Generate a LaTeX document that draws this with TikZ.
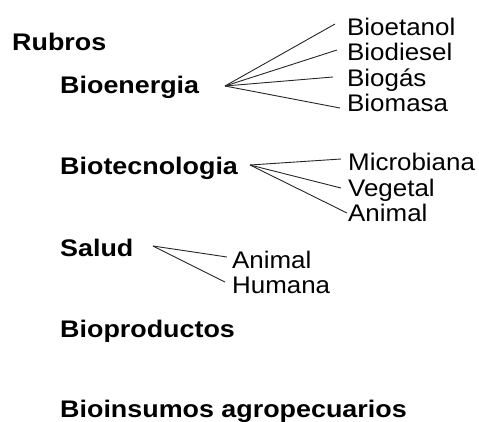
\documentclass[tikz,border=0pt]{standalone}
\usepackage{fontspec}
\setmainfont{Liberation Sans}[FakeStretch=1.08,BoldFeatures={FakeStretch=1.12}]
\begin{document}
\begin{tikzpicture}[x=1pt,y=-1pt,
  head/.style={anchor=base west,inner sep=0pt,font=\fontsize{24}{28}\selectfont\bfseries},
  leaf/.style={anchor=base west,inner sep=0pt,font=\fontsize{24}{28}\selectfont},
  link/.style={draw=black!85,line width=0.9pt}]
\useasboundingbox (0,0) rectangle (479,421);
\node[head] (rub) at (12,50) {Rubros};
\node[head] (bioe) at (60,93) {Bioenergia};
\node[leaf] (etan) at (347,35) {Bioetanol};
\node[leaf] (dies) at (347,60.5) {Biodiesel};
\node[leaf] (gas) at (347,86) {Biogás};
\node[leaf] (mas) at (347,111) {Biomasa};
\coordinate (fe) at (225,86);
\coordinate (e1) at (335,24);
\coordinate (e2) at (337,50);
\coordinate (e3) at (333,77);
\coordinate (e4) at (340,108);
\draw[link] (fe) -- (e1);
\draw[link] (fe) -- (e2);
\draw[link] (fe) -- (e3);
\draw[link] (fe) -- (e4);
\node[head] (biot) at (60,174) {Biotecnologia};
\node[leaf] (micro) at (348,170) {Microbiana};
\node[leaf] (veg) at (348,196) {Vegetal};
\node[leaf] (ani) at (348,221) {Animal};
\coordinate (ft) at (250,165);
\coordinate (t1) at (341,159);
\coordinate (t2) at (341,188);
\coordinate (t3) at (347,213);
\draw[link] (ft) -- (t1);
\draw[link] (ft) -- (t2);
\draw[link] (ft) -- (t3);
\node[head] (sal) at (60,256) {Salud};
\node[leaf] (sani) at (232,268) {Animal};
\node[leaf] (shum) at (232,293) {Humana};
\coordinate (fs) at (153,246);
\coordinate (s1) at (227,257);
\coordinate (s2) at (225,282);
\draw[link] (fs) -- (s1);
\draw[link] (fs) -- (s2);
\node[head] (bprod) at (60,337) {Bioproductos};
\node[head] (bins) at (60,417) {Bioinsumos agropecuarios};
\end{tikzpicture}
\end{document}
